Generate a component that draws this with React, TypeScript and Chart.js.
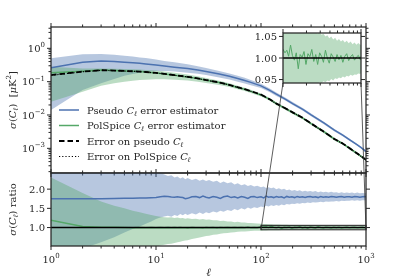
import React, { useEffect, useRef } from "react";
import { Chart, registerables } from "chart.js";

Chart.register(...registerables);

// ---------------- data ----------------
const ELL_TOP = [1, 2, 3, 4, 5, 6, 7, 8, 10, 12, 15, 20, 25, 30, 40, 50, 60, 70, 80, 100, 120, 140, 170, 200, 250, 300, 400, 500, 600, 700, 800, 900, 1000];
const PSEUDO_EST = [0.26, 0.38, 0.42, 0.405, 0.385, 0.37, 0.355, 0.34, 0.315, 0.295, 0.272, 0.248, 0.225, 0.202, 0.17, 0.145, 0.124, 0.108, 0.095, 0.075, 0.056, 0.042, 0.03, 0.022, 0.0148, 0.0101, 0.0057, 0.0035, 0.0025, 0.0018, 0.00136, 0.00105, 0.0008];
const PSEUDO_EST_HI = [0.5, 0.66, 0.68, 0.64, 0.6, 0.565, 0.535, 0.51, 0.46, 0.42, 0.38, 0.33, 0.29, 0.255, 0.21, 0.175, 0.15, 0.13, 0.112, 0.086, 0.063, 0.047, 0.0335, 0.0245, 0.0163, 0.0111, 0.0062, 0.0038, 0.0027, 0.00193, 0.00145, 0.00112, 0.00085];
const PSEUDO_EST_LO = [0.014, 0.056, 0.09, 0.12, 0.15, 0.17, 0.185, 0.195, 0.21, 0.21, 0.2, 0.185, 0.172, 0.158, 0.133, 0.116, 0.1, 0.088, 0.078, 0.064, 0.049, 0.037, 0.027, 0.0198, 0.0134, 0.0092, 0.0052, 0.0032, 0.00232, 0.00167, 0.00127, 0.00098, 0.00075];
const POLSPICE_EST = [0.185, 0.205, 0.222, 0.215, 0.21, 0.204, 0.2, 0.194, 0.182, 0.171, 0.155, 0.138, 0.124, 0.11, 0.094, 0.079, 0.067, 0.059, 0.051, 0.04, 0.03, 0.0218, 0.0158, 0.0119, 0.0081, 0.0055, 0.0031, 0.0019, 0.00138, 0.001, 0.00074, 0.00057, 0.00045];
const POLSPICE_EST_HI = [0.28, 0.25, 0.25, 0.245, 0.24, 0.235, 0.23, 0.225, 0.215, 0.2, 0.185, 0.163, 0.145, 0.128, 0.107, 0.089, 0.076, 0.066, 0.057, 0.0445, 0.033, 0.0242, 0.0173, 0.013, 0.0089, 0.006, 0.0034, 0.00206, 0.0015, 0.00108, 0.0008, 0.00062, 0.00048];
const POLSPICE_EST_LO = [0.025, 0.05, 0.075, 0.09, 0.1, 0.107, 0.112, 0.115, 0.118, 0.118, 0.114, 0.108, 0.099, 0.091, 0.079, 0.069, 0.059, 0.052, 0.046, 0.036, 0.027, 0.0196, 0.0143, 0.0108, 0.0074, 0.005, 0.0028, 0.00172, 0.00127, 0.00091, 0.00068, 0.00053, 0.00041];
const ERR_PSEUDO = [0.158, 0.2, 0.22, 0.215, 0.21, 0.205, 0.2, 0.195, 0.183, 0.172, 0.157, 0.14, 0.125, 0.112, 0.095, 0.08, 0.068, 0.06, 0.052, 0.041, 0.03, 0.022, 0.016, 0.012, 0.0082, 0.0056, 0.0031, 0.0019, 0.0014, 0.001, 0.00075, 0.00058, 0.00045];
const ERR_POLSPICE = [0.155, 0.198, 0.218, 0.214, 0.209, 0.204, 0.199, 0.194, 0.182, 0.171, 0.156, 0.139, 0.124, 0.111, 0.094, 0.079, 0.067, 0.059, 0.0515, 0.0405, 0.0297, 0.0218, 0.0159, 0.0119, 0.0081, 0.0055, 0.00308, 0.00189, 0.00139, 0.00099, 0.00074, 0.00057, 0.000445];

const ELL_RATIO = [1, 2, 3, 4, 5, 6, 7, 8, 9, 10, 11, 12, 13, 14, 15, 16, 17, 18, 19, 20, 22, 24, 26, 28, 30, 32, 35, 38, 41, 44, 48, 52, 56, 60, 65, 70, 75, 80, 86, 92, 100, 106, 112, 118, 125, 132, 140, 148, 157, 166, 176, 186, 197, 209, 221, 234, 248, 263, 278, 295, 312, 330, 350, 370, 392, 415, 440, 466, 493, 522, 553, 585, 620, 656, 695, 736, 779, 825, 874, 925, 980, 1000];
const RATIO_PSEUDO = [1.75, 1.75, 1.75, 1.755, 1.76, 1.765, 1.77, 1.77, 1.775, 1.78, 1.8, 1.815, 1.81, 1.795, 1.79, 1.8, 1.79, 1.78, 1.75, 1.76, 1.8, 1.81, 1.78, 1.82, 1.79, 1.77, 1.81, 1.79, 1.76, 1.8, 1.82, 1.78, 1.8, 1.77, 1.81, 1.79, 1.76, 1.8, 1.81, 1.78, 1.8, 1.77, 1.82, 1.79, 1.8, 1.78, 1.81, 1.79, 1.8, 1.77, 1.81, 1.79, 1.8, 1.78, 1.81, 1.79, 1.8, 1.78, 1.8, 1.81, 1.79, 1.8, 1.78, 1.81, 1.79, 1.8, 1.79, 1.81, 1.8, 1.79, 1.8, 1.81, 1.79, 1.8, 1.8, 1.79, 1.81, 1.8, 1.79, 1.8, 1.81, 1.8];
const RATIO_PSEUDO_HI = [3.2, 3.1, 3.0, 2.9, 2.8, 2.72, 2.65, 2.58, 2.52, 2.47, 2.42, 2.38, 2.34, 2.36, 2.3, 2.33, 2.28, 2.31, 2.26, 2.29, 2.24, 2.27, 2.22, 2.25, 2.21, 2.24, 2.19, 2.22, 2.16, 2.2, 2.15, 2.18, 2.12, 2.15, 2.1, 2.13, 2.08, 2.11, 2.07, 2.09, 2.05, 2.07, 2.03, 2.05, 2.02, 2.04, 2.0, 2.02, 1.99, 2.01, 1.97, 1.99, 1.96, 1.98, 1.95, 1.97, 1.94, 1.96, 1.94, 1.95, 1.93, 1.95, 1.92, 1.94, 1.92, 1.93, 1.91, 1.93, 1.91, 1.92, 1.9, 1.92, 1.9, 1.91, 1.9, 1.91, 1.89, 1.91, 1.89, 1.9, 1.89, 1.9];
const RATIO_PSEUDO_LO = [0.1, 0.45, 0.62, 0.75, 0.87, 0.96, 1.03, 1.1, 1.16, 1.22, 1.26, 1.29, 1.31, 1.28, 1.33, 1.3, 1.35, 1.32, 1.36, 1.33, 1.37, 1.34, 1.39, 1.35, 1.4, 1.37, 1.42, 1.39, 1.44, 1.41, 1.46, 1.43, 1.48, 1.45, 1.5, 1.47, 1.52, 1.49, 1.53, 1.51, 1.55, 1.53, 1.57, 1.55, 1.58, 1.56, 1.59, 1.57, 1.6, 1.58, 1.61, 1.6, 1.62, 1.61, 1.63, 1.62, 1.64, 1.63, 1.65, 1.64, 1.66, 1.65, 1.66, 1.67, 1.66, 1.68, 1.67, 1.68, 1.68, 1.69, 1.68, 1.7, 1.69, 1.7, 1.7, 1.71, 1.7, 1.71, 1.7, 1.71, 1.71, 1.71];
const RATIO_POLSPICE = [1.19, 1.03, 1.01, 1.005, 1.0, 0.998, 1.0, 0.996, 1.002, 0.995, 1.0, 0.994, 1.003, 0.992, 1.0, 0.995, 1.004, 0.993, 0.998, 0.99, 1.003, 0.992, 0.998, 0.99, 1.002, 0.994, 0.999, 0.991, 1.004, 0.995, 1.0, 0.993, 1.003, 0.996, 1.001, 0.994, 1.005, 0.997, 1.002, 0.996, 1.02, 1.012, 1.018, 1.004, 1.03, 1.006, 0.995, 1.012, 0.975, 1.008, 1.002, 1.015, 0.985, 1.01, 1.003, 1.02, 0.992, 1.008, 0.985, 1.012, 1.004, 0.99, 1.018, 1.0, 0.988, 1.01, 1.002, 0.992, 1.008, 0.996, 1.006, 0.99, 1.004, 1.01, 0.994, 1.003, 1.008, 0.995, 1.002, 1.006, 0.996, 1.004];
const RATIO_POLSPICE_HI = [2.3, 1.9, 1.68, 1.57, 1.5, 1.44, 1.4, 1.36, 1.33, 1.3, 1.28, 1.27, 1.26, 1.27, 1.25, 1.26, 1.24, 1.25, 1.23, 1.24, 1.22, 1.23, 1.21, 1.22, 1.2, 1.21, 1.19, 1.19, 1.17, 1.18, 1.16, 1.16, 1.14, 1.15, 1.13, 1.13, 1.12, 1.12, 1.11, 1.105, 1.1, 1.095, 1.09, 1.088, 1.085, 1.082, 1.08, 1.077, 1.075, 1.072, 1.07, 1.068, 1.066, 1.064, 1.063, 1.061, 1.06, 1.062, 1.057, 1.06, 1.054, 1.056, 1.05, 1.053, 1.046, 1.05, 1.043, 1.047, 1.04, 1.044, 1.038, 1.042, 1.036, 1.04, 1.034, 1.038, 1.032, 1.036, 1.031, 1.035, 1.03, 1.032];
const RATIO_POLSPICE_LO = [-0.2, 0.0, 0.12, 0.2, 0.27, 0.32, 0.37, 0.41, 0.45, 0.5, 0.53, 0.55, 0.57, 0.58, 0.6, 0.62, 0.63, 0.65, 0.66, 0.67, 0.7, 0.72, 0.74, 0.76, 0.78, 0.79, 0.81, 0.82, 0.84, 0.85, 0.86, 0.87, 0.88, 0.89, 0.895, 0.9, 0.905, 0.91, 0.915, 0.918, 0.92, 0.923, 0.925, 0.927, 0.928, 0.93, 0.931, 0.933, 0.934, 0.935, 0.936, 0.937, 0.938, 0.939, 0.94, 0.94, 0.941, 0.942, 0.941, 0.944, 0.942, 0.946, 0.944, 0.948, 0.946, 0.951, 0.948, 0.953, 0.951, 0.955, 0.953, 0.957, 0.955, 0.959, 0.957, 0.961, 0.959, 0.962, 0.961, 0.964, 0.963, 0.965];
const RATIO_REF = 1.0;

const X_RANGE = [1, 1000];
const TOP_Y_RANGE = [1.82e-4, 4.36];
const RATIO_Y_RANGE = [0.52, 2.42];
const INSET_X_RANGE = [100, 1000];
const INSET_Y_RANGE = [0.942, 1.058];

const X_TICK_EXPONENTS = [0, 1, 2, 3];
const TOP_Y_TICK_EXPONENTS = [0, -1, -2, -3];
const RATIO_Y_TICKS = [1.0, 1.5, 2.0];
const INSET_Y_TICKS = [0.95, 1.0, 1.05];

const LEGEND_TEXT = [
  ["Pseudo ", " error estimator"],
  ["PolSpice ", " error estimator"],
  ["Error on pseudo ", ""],
  ["Error on PolSpice ", ""],
];

// ---------------- styling ----------------
const W = 407;
const H = 280;
const BLUE = "#4C72B0";
const GREEN = "#55A868";
const BLUE_FILL = "rgba(76,114,176,0.4)";
const GREEN_FILL = "rgba(85,168,104,0.4)";
const AXIS = "#262626";
const SERIF = '"DejaVu Serif", "Liberation Serif", serif';
const DASH = [5.5, 3];
const DOT = [1.2, 2];

const TOP_PAD = { left: 51, right: 41, top: 27, bottom: 107 };
const RATIO_PAD = { left: 51, right: 41, top: 173, bottom: 34 };
const INSET_PAD = { left: 283, right: 46, top: 33, bottom: 197 };

type Seg = { t: string; s?: number; i?: boolean; dy?: number };

function font(size: number, italic?: boolean) {
  return `${italic ? "italic " : ""}${size}px ${SERIF}`;
}
function richWidth(ctx: CanvasRenderingContext2D, segs: Seg[]) {
  let w = 0;
  for (const s of segs) {
    ctx.font = font(s.s ?? 10, s.i);
    w += ctx.measureText(s.t).width;
  }
  return w;
}
function drawRich(ctx: CanvasRenderingContext2D, segs: Seg[], x: number, y: number, align: string) {
  const w = richWidth(ctx, segs);
  let cx = align === "left" ? x : align === "center" ? x - w / 2 : x - w;
  ctx.textAlign = "left";
  ctx.textBaseline = "alphabetic";
  for (const s of segs) {
    ctx.font = font(s.s ?? 10, s.i);
    ctx.fillText(s.t, cx, y + (s.dy ?? 0));
    cx += ctx.measureText(s.t).width;
  }
}
const CELL: Seg[] = [{ t: "C", i: true }, { t: "ℓ", s: 7, i: true, dy: 2 }];
function pow10(e: number): Seg[] {
  return [{ t: "10" }, { t: e < 0 ? "\u2212" + -e : String(e), s: 7, dy: -4.5 }];
}
function logValues(min: number, max: number) {
  const majors: number[] = [];
  const minors: number[] = [];
  for (let e = Math.floor(Math.log10(min)); e <= Math.ceil(Math.log10(max)); e++) {
    for (let m = 1; m < 10; m++) {
      const v = m * Math.pow(10, e);
      if (v < min * 0.9999 || v > max * 1.0001) continue;
      (m === 1 ? majors : minors).push(v);
    }
  }
  return { majors, minors };
}
function ticksX(ctx: CanvasRenderingContext2D, scale: any, vals: number[], y: number, dir: number, len: number) {
  ctx.beginPath();
  for (const v of vals) {
    const px = scale.getPixelForValue(v);
    ctx.moveTo(px, y);
    ctx.lineTo(px, y + dir * len);
  }
  ctx.stroke();
}
function ticksY(ctx: CanvasRenderingContext2D, scale: any, vals: number[], x: number, dir: number, len: number) {
  ctx.beginPath();
  for (const v of vals) {
    const py = scale.getPixelForValue(v);
    ctx.moveTo(x, py);
    ctx.lineTo(x + dir * len, py);
  }
  ctx.stroke();
}
function frame(ctx: CanvasRenderingContext2D, a: any) {
  ctx.lineWidth = 1.25;
  ctx.strokeStyle = AXIS;
  ctx.strokeRect(a.left, a.top, a.right - a.left, a.bottom - a.top);
}
function rotatedLabel(ctx: CanvasRenderingContext2D, segs: Seg[], x: number, y: number) {
  ctx.save();
  ctx.translate(x, y);
  ctx.rotate(-Math.PI / 2);
  drawRich(ctx, segs, 0, 3.6, "center");
  ctx.restore();
}

const pts = (xs: number[], ys: number[]) => xs.map((x, i) => ({ x, y: ys[i] }));
const lineDs = (data: any[], color: string, width: number, dash: number[] = []) => ({
  data, borderColor: color, borderWidth: width, borderDash: dash, pointRadius: 0, fill: false, tension: 0,
});
const bandHi = (data: any[], color: string) => ({
  data, borderColor: "rgba(0,0,0,0)", borderWidth: 0, pointRadius: 0, backgroundColor: color, fill: "+1", tension: 0,
});
const bandLo = (data: any[]) => ({
  data, borderColor: "rgba(0,0,0,0)", borderWidth: 0, pointRadius: 0, fill: false, tension: 0,
});

function baseOptions(pad: any, xr: number[], yType: string, yr: number[]) {
  return {
    responsive: false,
    maintainAspectRatio: false,
    animation: false,
    events: [],
    layout: { padding: pad },
    plugins: { legend: { display: false }, tooltip: { enabled: false }, title: { display: false } },
    scales: {
      x: { type: "logarithmic", min: xr[0], max: xr[1], display: false },
      y: { type: yType, min: yr[0], max: yr[1], display: false },
    },
  };
}

const LEGEND_STYLE = [
  { color: BLUE, width: 1.5, dash: [] as number[] },
  { color: GREEN, width: 1.5, dash: [] as number[] },
  { color: "#000", width: 1.8, dash: DASH },
  { color: "#000", width: 1.2, dash: DOT },
];

const topDecor = {
  id: "topDecor",
  afterDraw(chart: any) {
    const { ctx, chartArea: a, scales } = chart;
    const x = scales.x;
    const y = scales.y;
    ctx.save();
    ctx.strokeStyle = AXIS;
    ctx.lineWidth = 1;
    const xt = logValues(X_RANGE[0], X_RANGE[1]);
    ticksX(ctx, x, xt.majors, a.top, -1, 4);
    ticksX(ctx, x, xt.minors, a.top, -1, 2.5);
    ticksX(ctx, x, xt.majors, a.bottom, 1, 4);
    ticksX(ctx, x, xt.minors, a.bottom, 1, 2.5);
    const yt = logValues(TOP_Y_RANGE[0], TOP_Y_RANGE[1]);
    ticksY(ctx, y, yt.majors, a.left, -1, 4);
    ticksY(ctx, y, yt.minors, a.left, -1, 2.5);
    ticksY(ctx, y, yt.majors, a.right, 1, 4);
    ticksY(ctx, y, yt.minors, a.right, 1, 2.5);
    frame(ctx, a);
    ctx.fillStyle = AXIS;
    for (const e of TOP_Y_TICK_EXPONENTS) {
      drawRich(ctx, pow10(e), a.left - 6, y.getPixelForValue(Math.pow(10, e)) + 3.6, "right");
    }
    rotatedLabel(
      ctx,
      [{ t: "σ", i: true }, { t: "(" }, ...CELL, { t: ")" }, { t: "  [" }, { t: "μ", i: true }, { t: "K" }, { t: "2", s: 7, dy: -4.5 }, { t: "]" }],
      12,
      (a.top + a.bottom) / 2
    );
    // legend
    const lx0 = a.left + 8;
    const lx1 = a.left + 28;
    const tx = a.left + 36;
    LEGEND_TEXT.forEach((lt, i) => {
      const cy = a.top + 83 + i * 15.5;
      const st = LEGEND_STYLE[i];
      ctx.save();
      ctx.strokeStyle = st.color;
      ctx.lineWidth = st.width;
      ctx.setLineDash(st.dash);
      ctx.beginPath();
      ctx.moveTo(lx0, cy);
      ctx.lineTo(lx1, cy);
      ctx.stroke();
      ctx.restore();
      ctx.fillStyle = AXIS;
      const segs: Seg[] = [{ t: lt[0] }, ...CELL];
      if (lt[1]) segs.push({ t: lt[1] });
      drawRich(ctx, segs, tx, cy + 3.6, "left");
    });
    ctx.restore();
  },
};

function makeRatioDecor(getInset: () => any) {
  return {
    id: "ratioDecor",
    afterDatasetsDraw(chart: any) {
      const { ctx, scales } = chart;
      const x = scales.x;
      const y = scales.y;
      const x0 = x.getPixelForValue(INSET_X_RANGE[0]);
      const x1 = x.getPixelForValue(INSET_X_RANGE[1]);
      const y0 = y.getPixelForValue(INSET_Y_RANGE[1]);
      const y1 = y.getPixelForValue(INSET_Y_RANGE[0]);
      ctx.save();
      ctx.strokeStyle = "#1a1a1a";
      ctx.lineWidth = 1;
      ctx.strokeRect(x0, y0, x1 - x0, y1 - y0);
      ctx.restore();
    },
    afterDraw(chart: any) {
      const { ctx, chartArea: a, scales } = chart;
      const x = scales.x;
      const y = scales.y;
      ctx.save();
      ctx.strokeStyle = AXIS;
      ctx.lineWidth = 1;
      const xt = logValues(X_RANGE[0], X_RANGE[1]);
      ticksX(ctx, x, xt.majors, a.top, -1, 4);
      ticksX(ctx, x, xt.minors, a.top, -1, 2.5);
      ticksX(ctx, x, xt.majors, a.bottom, 1, 4);
      ticksX(ctx, x, xt.minors, a.bottom, 1, 2.5);
      ticksY(ctx, y, RATIO_Y_TICKS, a.left, -1, 4);
      ticksY(ctx, y, RATIO_Y_TICKS, a.right, 1, 4);
      frame(ctx, a);
      ctx.fillStyle = AXIS;
      for (const v of RATIO_Y_TICKS) {
        drawRich(ctx, [{ t: v.toFixed(1) }], a.left - 6, y.getPixelForValue(v) + 3.6, "right");
      }
      for (const e of X_TICK_EXPONENTS) {
        drawRich(ctx, pow10(e), x.getPixelForValue(Math.pow(10, e)), a.bottom + 16.5, "center");
      }
      drawRich(ctx, [{ t: "ℓ", s: 11, i: true }], (a.left + a.right) / 2, a.bottom + 30, "center");
      rotatedLabel(ctx, [{ t: "σ", i: true }, { t: "(" }, ...CELL, { t: ")" }, { t: " ratio" }], 12, (a.top + a.bottom) / 2);
      // connectors to inset
      const inset = getInset();
      if (inset && inset.chartArea) {
        const ia = inset.chartArea;
        const x0 = x.getPixelForValue(INSET_X_RANGE[0]);
        const x1 = x.getPixelForValue(INSET_X_RANGE[1]);
        const yb = y.getPixelForValue(INSET_Y_RANGE[0]);
        ctx.strokeStyle = "#333";
        ctx.lineWidth = 0.8;
        ctx.beginPath();
        ctx.moveTo(ia.left, ia.bottom);
        ctx.lineTo(x0, yb);
        ctx.moveTo(ia.right, ia.bottom);
        ctx.lineTo(x1, yb);
        ctx.stroke();
      }
      ctx.restore();
    },
  };
}

const insetDecor = {
  id: "insetDecor",
  beforeDraw(chart: any) {
    const { ctx, chartArea: a } = chart;
    ctx.save();
    ctx.fillStyle = "#ffffff";
    ctx.fillRect(a.left, a.top, a.right - a.left, a.bottom - a.top);
    ctx.restore();
  },
  afterDraw(chart: any) {
    const { ctx, chartArea: a, scales } = chart;
    const x = scales.x;
    const y = scales.y;
    ctx.save();
    ctx.strokeStyle = AXIS;
    ctx.lineWidth = 1;
    const xt = logValues(INSET_X_RANGE[0], INSET_X_RANGE[1]);
    ticksX(ctx, x, xt.majors, a.bottom, 1, 4);
    ticksX(ctx, x, xt.minors, a.bottom, 1, 2.5);
    ticksX(ctx, x, xt.majors, a.top, -1, 4);
    ticksX(ctx, x, xt.minors, a.top, -1, 2.5);
    ticksY(ctx, y, INSET_Y_TICKS, a.left, -1, 4);
    ticksY(ctx, y, INSET_Y_TICKS, a.right, 1, 4);
    frame(ctx, a);
    ctx.fillStyle = AXIS;
    for (const v of INSET_Y_TICKS) {
      drawRich(ctx, [{ t: v.toFixed(2) }], a.left - 6, y.getPixelForValue(v) + 3.6, "right");
    }
    ctx.restore();
  },
};

export default function App() {
  const topRef = useRef<HTMLCanvasElement>(null);
  const ratioRef = useRef<HTMLCanvasElement>(null);
  const insetRef = useRef<HTMLCanvasElement>(null);

  useEffect(() => {
    document.body.style.margin = "0";
    const top = new Chart(topRef.current as HTMLCanvasElement, {
      type: "line",
      data: {
        datasets: [
          lineDs(pts(ELL_TOP, ERR_POLSPICE), "#000", 1.2, DOT),
          lineDs(pts(ELL_TOP, ERR_PSEUDO), "#000", 1.8, DASH),
          lineDs(pts(ELL_TOP, POLSPICE_EST), GREEN, 1.5),
          lineDs(pts(ELL_TOP, PSEUDO_EST), BLUE, 1.5),
          bandHi(pts(ELL_TOP, POLSPICE_EST_HI), GREEN_FILL),
          bandLo(pts(ELL_TOP, POLSPICE_EST_LO)),
          bandHi(pts(ELL_TOP, PSEUDO_EST_HI), BLUE_FILL),
          bandLo(pts(ELL_TOP, PSEUDO_EST_LO)),
        ] as any,
      },
      options: baseOptions(TOP_PAD, X_RANGE, "logarithmic", TOP_Y_RANGE) as any,
      plugins: [topDecor],
    });

    const refLine = (xr: number[]) => xr.map((xv) => ({ x: xv, y: RATIO_REF }));

    const inset = new Chart(insetRef.current as HTMLCanvasElement, {
      type: "line",
      data: {
        datasets: [
          lineDs(refLine(INSET_X_RANGE), "#000", 1.5),
          lineDs(pts(ELL_RATIO, RATIO_POLSPICE), GREEN, 1),
          bandHi(pts(ELL_RATIO, RATIO_POLSPICE_HI), GREEN_FILL),
          bandLo(pts(ELL_RATIO, RATIO_POLSPICE_LO)),
        ] as any,
      },
      options: baseOptions(INSET_PAD, INSET_X_RANGE, "linear", INSET_Y_RANGE) as any,
      plugins: [insetDecor],
    });

    const ratio = new Chart(ratioRef.current as HTMLCanvasElement, {
      type: "line",
      data: {
        datasets: [
          lineDs(refLine(X_RANGE), "#000", 1.5),
          lineDs(pts(ELL_RATIO, RATIO_POLSPICE), GREEN, 1.5),
          lineDs(pts(ELL_RATIO, RATIO_PSEUDO), BLUE, 1.5),
          bandHi(pts(ELL_RATIO, RATIO_POLSPICE_HI), GREEN_FILL),
          bandLo(pts(ELL_RATIO, RATIO_POLSPICE_LO)),
          bandHi(pts(ELL_RATIO, RATIO_PSEUDO_HI), BLUE_FILL),
          bandLo(pts(ELL_RATIO, RATIO_PSEUDO_LO)),
        ] as any,
      },
      options: baseOptions(RATIO_PAD, X_RANGE, "linear", RATIO_Y_RANGE) as any,
      plugins: [makeRatioDecor(() => inset)],
    });

    return () => {
      top.destroy();
      ratio.destroy();
      inset.destroy();
    };
  }, []);

  const cs: React.CSSProperties = { position: "absolute", left: 0, top: 0 };
  return (
    <div style={{ position: "relative", width: W, height: H, background: "#ffffff" }}>
      <canvas ref={topRef} width={W} height={H} style={cs} />
      <canvas ref={ratioRef} width={W} height={H} style={cs} />
      <canvas ref={insetRef} width={W} height={H} style={cs} />
    </div>
  );
}
